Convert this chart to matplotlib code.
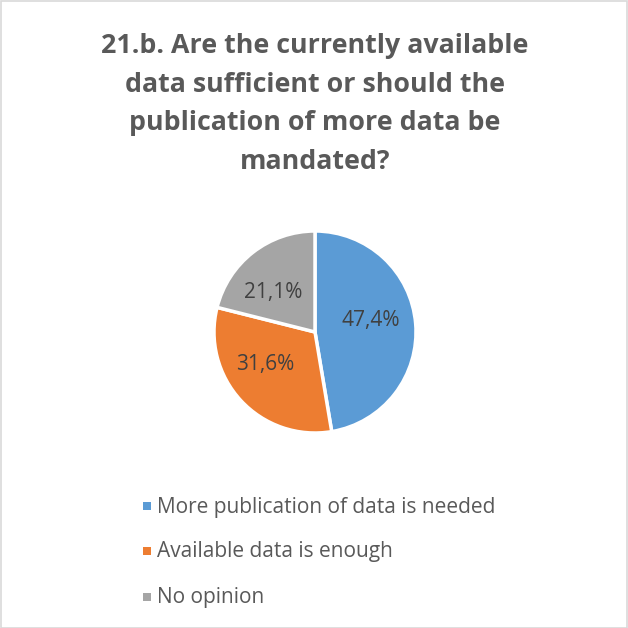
import matplotlib
matplotlib.use("Agg")
import matplotlib.pyplot as plt
from matplotlib.patches import Rectangle
import numpy as np

title = "21.b. Are the currently available\ndata sufficient or should the\npublication of more data be\nmandated?"
categories = ["More publication of data is needed", "Available data is enough", "No opinion"]
values = [47.4, 31.6, 21.1]
labels = ["47,4%", "31,6%", "21,1%"]
colors = ["#5b9bd5", "#ed7d31", "#a5a5a5"]

plt.rcParams['font.family'] = ['Open Sans', 'DejaVu Sans']

W = H = 628
fig = plt.figure(figsize=(W/100, H/100), dpi=100)
fig.patches.append(Rectangle((0.5/W, 0.5/H), 1-1.5/W, 1-1.5/H, transform=fig.transFigure,
                             fill=False, edgecolor="#d9d9d9", linewidth=1.2))

fig.text(315/W, 1-104/H, title, ha="center", va="center", fontsize=19.3, fontweight="bold",
         color="#595959", linespacing=1.63)

cx, cy, r = 315, 332, 101
ax = fig.add_axes([(cx-r)/W, 1-(cy+r)/H, 2*r/W, 2*r/H])
wedges, _ = ax.pie(values, colors=colors, startangle=90, counterclock=False,
                   wedgeprops=dict(edgecolor="white", linewidth=2.5), radius=1.0)
ax.set_xlim(-1, 1); ax.set_ylim(-1, 1); ax.set_aspect("equal"); ax.axis("off")

tot = sum(values)
start = 90.0
rads = [0.56, 0.59, 0.57]
shifts = [7.3, -9.1, 8.1]
for v, lab, rr, sh in zip(values, labels, rads, shifts):
    ang = start - v/tot*360/2 + sh
    start -= v/tot*360
    x, y = rr*np.cos(np.radians(ang)), rr*np.sin(np.radians(ang))
    ax.text(x, y, lab, ha="center", va="center", fontsize=15, color="#404040")

leg_y = [507, 552, 598]
for c, name, yy in zip(colors, categories, leg_y):
    fig.patches.append(Rectangle((143/W, 1-(yy+3)/H), 8/W, 8/H, transform=fig.transFigure,
                                 facecolor=c, edgecolor="none"))
    fig.text(157/W, 1-yy/H, name, ha="left", va="center", fontsize=15, color="#595959")

fig.savefig("out.png", dpi=100)
